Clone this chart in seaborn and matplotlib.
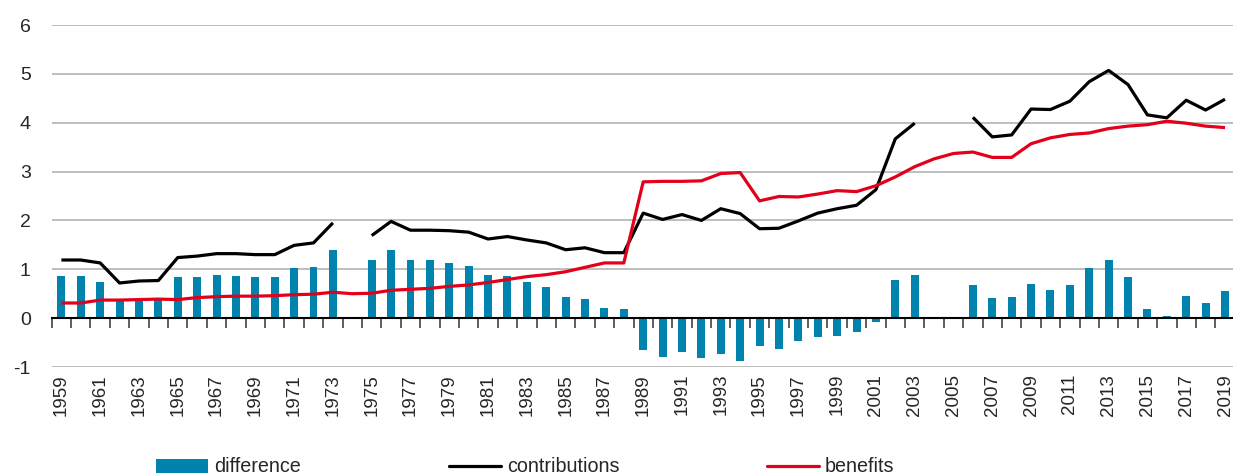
import matplotlib
matplotlib.use("Agg")
import matplotlib.pyplot as plt
from matplotlib.lines import Line2D
from matplotlib.patches import Patch
import numpy as np
import pandas as pd
import seaborn as sns

# data
years = list(range(1959, 2020))

difference = [
    0.86, 0.86, 0.74, 0.35, 0.38, 0.38, 0.85, 0.84, 0.89, 0.87,
    0.85, 0.84, 1.02, 1.04, 1.40, np.nan, 1.19, 1.40, 1.20, 1.18,
    1.12, 1.06, 0.89, 0.87, 0.73, 0.63, 0.44, 0.40, 0.20, 0.18,
    -0.65, -0.79, -0.69, -0.81, -0.73, -0.87, -0.57, -0.64, -0.47, -0.38,
    -0.37, -0.29, -0.08, 0.78, 0.89, np.nan, np.nan, 0.68, 0.41, 0.44,
    0.69, 0.58, 0.67, 1.03, 1.19, 0.84, 0.18, 0.05, 0.45, 0.32,
    0.56,
]

contributions = [
    1.19, 1.19, 1.13, 0.72, 0.76, 0.77, 1.24, 1.27, 1.32, 1.32,
    1.30, 1.30, 1.49, 1.54, 1.95, np.nan, 1.69, 1.98, 1.80, 1.80,
    1.79, 1.76, 1.62, 1.67, 1.60, 1.54, 1.40, 1.44, 1.34, 1.34,
    2.15, 2.02, 2.12, 2.00, 2.24, 2.14, 1.83, 1.84, 1.99, 2.15,
    2.24, 2.31, 2.63, 3.67, 3.99, np.nan, np.nan, 4.11, 3.71, 3.75,
    4.28, 4.27, 4.44, 4.84, 5.07, 4.78, 4.16, 4.10, 4.46, 4.26,
    4.48,
]

benefits = [
    0.31, 0.31, 0.37, 0.37, 0.38, 0.39, 0.38, 0.42, 0.44, 0.45,
    0.45, 0.46, 0.48, 0.49, 0.53, 0.50, 0.51, 0.57, 0.59, 0.61,
    0.65, 0.68, 0.73, 0.79, 0.85, 0.89, 0.95, 1.04, 1.13, 1.13,
    2.79, 2.80, 2.80, 2.81, 2.96, 2.98, 2.40, 2.49, 2.48, 2.54,
    2.61, 2.59, 2.71, 2.89, 3.10, 3.26, 3.37, 3.40, 3.29, 3.29,
    3.57, 3.69, 3.76, 3.79, 3.88, 3.93, 3.96, 4.03, 3.99, 3.93,
    3.90,
]

labels = ["difference", "contributions", "benefits"]
bar_color = "#0083AC"
line_colors = ["#000000", "#E2001A"]

sns.set_style("white")
plt.rcParams["font.family"] = ["Liberation Sans", "DejaVu Sans"]
plt.rcParams["axes.unicode_minus"] = False


def segments(values):
    # split a series at its gaps so the line breaks there
    df = pd.DataFrame({"year": years, "value": values})
    df["seg"] = df["value"].isna().cumsum()
    return df.dropna()


fig = plt.figure(figsize=(12.33, 4.76), dpi=100)
ax = fig.add_axes([51.7 / 1233, 1 - 367 / 476, 1183 / 1233, 342 / 476])

bars = pd.DataFrame({"year": years, "value": difference}).dropna()
sns.barplot(data=bars, x="year", y="value", native_scale=True, width=0.41,
            color=bar_color, saturation=1, linewidth=0, ax=ax)

for vals, col in zip([contributions, benefits], line_colors):
    sns.lineplot(data=segments(vals), x="year", y="value", units="seg",
                 estimator=None, color=col, linewidth=2.3, ax=ax,
                 solid_joinstyle="round", solid_capstyle="butt")

ax.set_xlim(years[0] - 0.5, years[-1] + 0.5)
ax.set_ylim(-1, 6)
ax.set_yticks(range(-1, 7))
ax.set_xticks(years[::2])
ax.set_xticklabels([str(y) for y in years[::2]], rotation=90)
ax.tick_params(axis="x", length=0, pad=5, labelsize=13.5)
ax.tick_params(axis="y", length=0, pad=15, labelsize=14)
ax.set_xlabel("")
ax.set_ylabel("")
for s in ax.spines.values():
    s.set_visible(False)
ax.yaxis.grid(True, color="#b9b9b9", linewidth=1.3)
ax.xaxis.grid(False)
ax.set_axisbelow(True)

# zero line with category tick marks
sec = ax.secondary_xaxis(1 / 7)
sec.set_xticks([y - 0.5 for y in years] + [years[-1] + 0.5])
sec.tick_params(axis="x", length=7, width=1.1, color="#333333", labelbottom=False,
                labeltop=False, direction="out")
for s in sec.spines.values():
    s.set_color("black")
    s.set_linewidth(1.5)
sec.set_zorder(5)

handles = [
    Patch(facecolor=bar_color, edgecolor="none"),
    Line2D([], [], color=line_colors[0], linewidth=2.3),
    Line2D([], [], color=line_colors[1], linewidth=2.3),
]
fig.legend(handles, labels, loc="center left", bbox_to_anchor=(156 / 1233, 9 / 476),
           ncol=3, frameon=False, fontsize=14.2, handlelength=2.64,
           handletextpad=0.3, columnspacing=7.5, borderpad=0, borderaxespad=0)

fig.savefig("out.png", dpi=100)
